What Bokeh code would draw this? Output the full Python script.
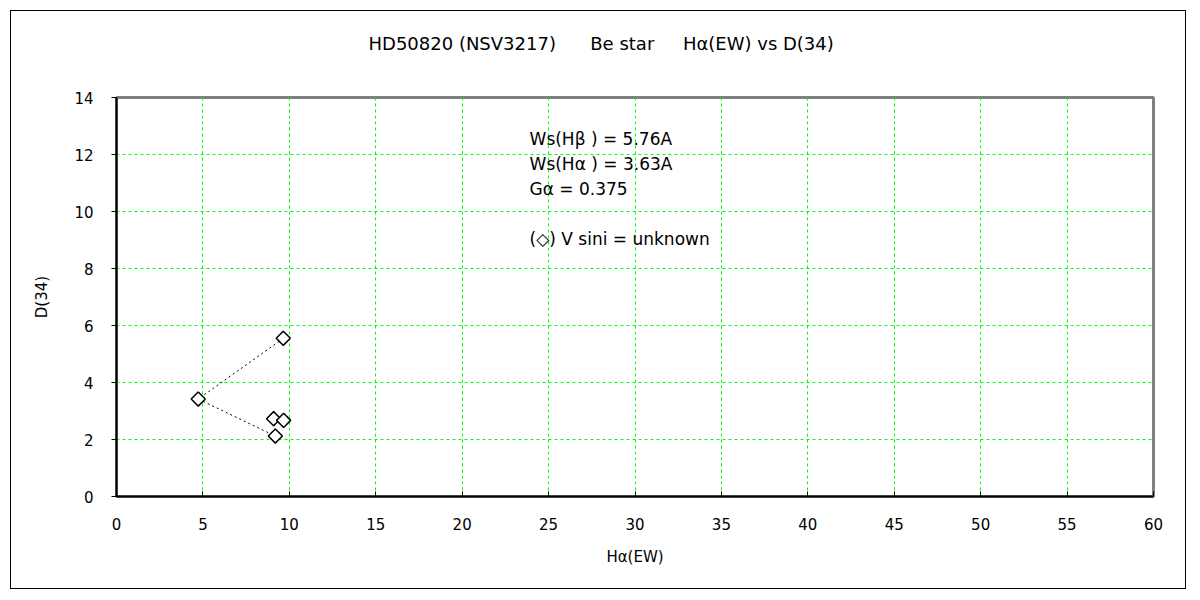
import math
from bokeh.plotting import figure
from bokeh.models import Range1d, FixedTicker, Title
from bokeh.core.properties import value
from bokeh.embed import file_html
from bokeh.resources import INLINE

# data
ha_ew = [9.65, 4.73, 9.19, 9.09, 9.67]
d34 = [5.55, 3.42, 2.12, 2.73, 2.67]

x_ticks = list(range(0, 61, 5))
y_ticks = list(range(0, 15, 2))

note_lines = ["Ws(Hβ ) = 5.76A", "Ws(Hα ) = 3.63A", "Gα = 0.375", "(◇) V sini = unknown"]
note_x = [23.9, 23.9, 23.9, 23.9]
note_y = [12.55, 11.67, 10.8, 9.05]

FONT = "DejaVu Sans"
NB = "\u00a0"

title_text = ("HD50820 (NSV3217)" + NB * 6 + "Be star" + NB * 5 + "Hα(EW) vs D(34)")

p = figure(width=1176, height=579, output_backend="svg", toolbar_location=None,
           x_range=Range1d(0, 60), y_range=Range1d(0, 14),
           min_border_left=105, min_border_right=34, min_border_top=86, min_border_bottom=94)
p.styles = {"border": "1px solid black", "margin-left": "10px", "margin-top": "10px"}

p.title = Title(text=title_text + "\n" + NB, align="left",
                vertical_align="top", offset=252, standoff=42, text_font=FONT,
                text_font_size="18px", text_font_style="normal", text_color="black")

p.outline_line_color = "#808080"
p.outline_line_width = 3

for ax in (p.xaxis[0], p.yaxis[0]):
    ax.axis_line_color = "black"
    ax.axis_line_width = 2
    ax.major_tick_line_color = "black"
    ax.minor_tick_line_color = None
    ax.major_label_text_font = FONT
    ax.major_label_text_font_size = "15px"
    ax.major_label_text_color = "black"
    ax.axis_label_text_font = FONT
    ax.axis_label_text_font_size = "15px"
    ax.axis_label_text_font_style = "normal"
    ax.axis_label_text_color = "black"

p.xaxis.ticker = FixedTicker(ticks=x_ticks)
p.yaxis.ticker = FixedTicker(ticks=y_ticks)
p.xaxis.major_tick_in = 5
p.xaxis.major_tick_out = 0
p.yaxis.major_tick_in = 0
p.yaxis.major_tick_out = 5
p.xaxis.major_label_standoff = 21
p.yaxis.major_label_standoff = 18
p.xaxis.axis_label = "Hα(EW)"
p.yaxis.axis_label = "D(34)"
p.xaxis.axis_label_standoff = 15
p.yaxis.axis_label_standoff = 20

p.grid.grid_line_color = "#00FF00"
p.grid.grid_line_dash = "3 3"
p.grid.grid_line_width = 1

p.line(ha_ew, d34, line_color="black", line_dash="2 3", line_width=1)
p.scatter(ha_ew, d34, marker="square", size=10, angle=math.pi / 4,
          fill_color="white", line_color="black", line_width=1.5)

p.text(x=note_x, y=note_y, text=note_lines, text_font=value(FONT),
       text_font_size="17px", text_baseline="middle", text_align="left", text_color="black")

open("out.html", "w").write(file_html(p, INLINE))
